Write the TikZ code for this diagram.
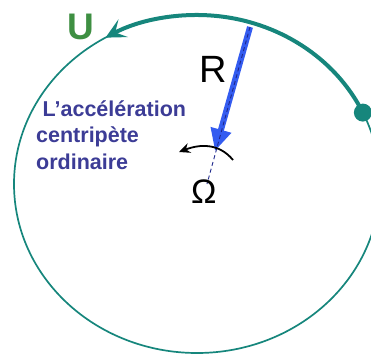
\documentclass[tikz,border=0pt]{standalone}
\usepackage{fontspec}
\setmainfont{Liberation Sans}
\usetikzlibrary{arrows.meta}
\definecolor{teal1}{RGB}{22,134,124}
\definecolor{ugreen}{RGB}{62,143,66}
\definecolor{txtblue}{RGB}{60,60,150}
\definecolor{rblue}{RGB}{52,92,240}
\definecolor{dblue}{RGB}{30,40,140}
\tikzset{
  orbit/.style={draw=teal1, line width=1.7pt},
  orbitthick/.style={draw=teal1, line width=4pt, -{Stealth[length=20pt,width=20pt,inset=9pt]}},
  radiusarrow/.style={draw=rblue, line width=6pt, -{Triangle[length=22pt,width=20pt]}},
  radiusdash/.style={draw=dblue, line width=0.9pt, dash pattern=on 4pt off 3pt},
  rotarrow/.style={draw=black, line width=1.8pt, -{Stealth[length=11pt,width=10pt]}},
  lbl/.style={inner sep=0pt, anchor=base west},
  txt/.style={lbl, text=txtblue, font=\bfseries\fontsize{21.5}{21.5}\selectfont},
}
\begin{document}
\begin{tikzpicture}[x=1pt,y=1pt]
\useasboundingbox (0,0) rectangle (371,357);
\coordinate (C) at (197,173);
% orbit ellipse
\draw[orbit] (C) ellipse [x radius=183, y radius=169];
\draw[orbitthick] (C) ++(25:183 and 169) coordinate (P) arc[start angle=25, end angle=120, x radius=183, y radius=169] coordinate (A);
\fill[teal1] (P) circle (9);
% radius
\coordinate (R0) at (250,330);
\coordinate (R1) at (215,206);
\coordinate (O) at (207,173);
\draw[radiusarrow] (R0) -- (R1);
\draw[radiusdash] (R0) -- (O);
% rotation arrow
\coordinate (W0) at (233,197);
\coordinate (W1) at (179,205);
\draw[rotarrow] (W0) .. controls (219,214) and (200,213) .. (W1);
% labels
\node[lbl, text=ugreen, font=\bfseries\fontsize{37}{37}\selectfont] (U) at (67,317) {U};
\node[lbl, text=black, font=\fontsize{38}{38}\selectfont] (Rl) at (199,275) {R};
\node[lbl, text=black, font=\fontsize{34}{34}\selectfont] (Om) at (191,154) {Ω};
\node[txt] (t1) at (42.5,241) {L’accélération};
\node[txt] (t2) at (36,215) {centripète};
\node[txt] (t3) at (36,188) {ordinaire};
\end{tikzpicture}
\end{document}
